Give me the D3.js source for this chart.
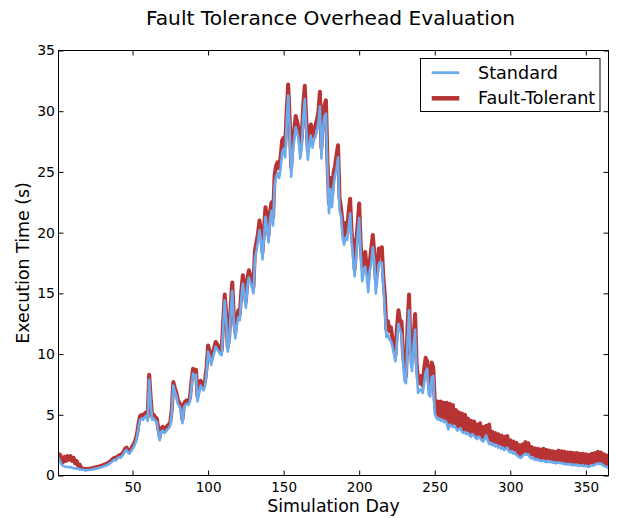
<!DOCTYPE html>
<html>
<head>
<meta charset="utf-8">
<script src="https://cdn.jsdelivr.net/npm/d3@7"></script>
<style>
body { margin: 0; background: #fff; }
text { font-family: "DejaVu Sans", sans-serif; fill: #000; }
</style>
</head>
<body>
<div id="chart"></div>
<script>
// execution time per simulated day
var standard = [
  1.5, 1.2, 0.9, 0.8, 0.75, 0.72, 0.7, 0.68, 0.7, 0.65,
  0.6, 0.6, 0.55, 0.55, 0.5, 0.5, 0.48, 0.45, 0.42, 0.45,
  0.45, 0.47, 0.5, 0.5, 0.55, 0.55, 0.6, 0.62, 0.68, 0.7,
  0.75, 0.8, 0.85, 0.9, 1.0, 1.1, 1.2, 1.3, 1.25, 1.4,
  1.5, 1.45, 1.6, 1.75, 2.0, 2.1, 1.9, 1.8, 2.0, 2.2,
  2.4, 2.7, 3.2, 4.0, 4.6, 4.7, 4.6, 4.8, 4.9, 4.5,
  7.9, 6.0, 4.6, 4.7, 4.5, 4.4, 3.6, 2.9, 3.6, 3.7,
  3.5, 3.6, 3.8, 3.9, 4.1, 5.2, 7.4, 6.9, 6.5, 5.9,
  5.7, 5.4, 4.3, 5.6, 5.8, 5.9, 5.8, 6.1, 7.3, 8.4,
  8.2, 8.3, 6.1, 6.8, 7.4, 7.2, 7.0, 7.4, 8.5, 10.2,
  9.8, 9.1, 9.6, 10.1, 10.6, 10.4, 10.2, 10.0, 9.9, 12.2,
  14.4, 12.8, 10.2, 11.0, 13.4, 15.2, 12.6, 11.3, 12.4, 13.0,
  12.8, 14.6, 15.8, 14.9, 13.8, 15.6, 16.3, 15.9, 15.5, 15.0,
  17.8, 18.5, 19.2, 20.2, 19.4, 17.8, 19.6, 21.3, 20.4, 19.2,
  21.0, 21.8, 20.6, 23.8, 24.6, 24.9, 24.5, 25.3, 26.6, 26.9,
  26.2, 29.0, 31.3, 28.5, 24.6, 26.5, 27.6, 28.7, 28.2, 27.6,
  26.1, 27.0, 29.5, 31.0, 28.4, 26.0, 27.2, 28.0, 27.0, 27.6,
  27.9, 28.4, 29.0, 30.4, 26.1, 28.5, 29.6, 29.8, 25.0, 21.6,
  23.6, 22.1, 23.8, 24.7, 25.2, 26.2, 21.8, 21.4, 19.6, 19.0,
  19.6, 19.4, 20.4, 21.6, 19.3, 17.8, 16.4, 17.9, 19.8, 21.2,
  18.3, 16.0, 16.8, 17.2, 16.4, 15.1, 16.9, 17.4, 18.8, 17.6,
  15.0, 16.2, 17.4, 17.6, 17.5, 15.6, 13.6, 11.4, 11.6, 11.2,
  11.1, 10.6, 10.0, 9.4, 11.0, 12.5, 12.0, 11.6, 9.4, 7.8,
  7.6, 11.0, 13.6, 9.4, 8.6, 10.6, 12.0, 8.6, 6.8, 7.0,
  7.1, 6.8, 7.6, 8.5, 8.8, 6.7, 6.5, 8.1, 8.2, 5.1,
  4.8, 4.6, 4.7, 4.5, 4.6, 4.4, 4.5, 4.3, 3.8, 4.2,
  4.1, 4.0, 4.1, 3.9, 3.7, 3.8, 3.9, 3.6, 3.5, 3.6,
  3.4, 3.5, 3.3, 3.2, 3.4, 3.3, 3.1, 3.0, 3.2, 3.1,
  2.9, 2.8, 3.0, 3.3, 2.9, 2.6, 2.7, 2.5, 2.6, 2.4,
  2.5, 2.3, 2.4, 2.2, 2.3, 2.1, 2.2, 2.3, 2.0, 1.9,
  2.0, 1.8, 1.9, 1.7, 1.6, 1.5, 1.45, 1.6, 1.7, 1.8,
  1.7, 1.75, 1.5, 1.4, 1.5, 1.3, 1.35, 1.25, 1.3, 1.2,
  1.2, 1.25, 1.15, 1.1, 1.2, 1.1, 1.15, 1.05, 1.1, 1.0,
  1.05, 1.1, 1.0, 1.05, 0.95, 1.0, 0.9, 0.95, 0.9, 0.95,
  0.85, 0.9, 0.85, 0.9, 0.8, 0.85, 0.8, 0.85, 0.75, 0.8,
  0.75, 0.7, 0.8, 0.85, 0.8, 0.9, 0.95, 1.0, 0.95, 1.0,
  0.85, 0.8, 0.75, 0.7, 0.6
];

var faultTolerant = [
  1.8, 1.7, 1.4, 1.1, 1.55, 1.2, 1.6, 1.3, 1.6, 1.2,
  1.45, 1.0, 1.2, 0.8, 0.9, 0.62, 0.58, 0.55, 0.52, 0.55,
  0.54, 0.57, 0.6, 0.62, 0.66, 0.67, 0.72, 0.74, 0.8, 0.82,
  0.88, 0.93, 0.98, 1.04, 1.14, 1.25, 1.36, 1.46, 1.4, 1.57,
  1.67, 1.62, 1.78, 1.94, 2.2, 2.3, 2.1, 2.0, 2.2, 2.42,
  2.64, 2.95, 3.45, 4.3, 4.9, 5.0, 4.9, 5.1, 5.2, 4.8,
  8.3, 6.4, 4.9, 5.0, 4.8, 4.7, 3.9, 3.2, 3.9, 4.0,
  3.8, 3.9, 4.1, 4.2, 4.4, 5.5, 7.7, 7.2, 6.8, 6.2,
  6.0, 5.7, 4.6, 5.9, 6.1, 6.2, 6.1, 6.4, 7.7, 8.8,
  8.6, 8.7, 6.5, 7.2, 7.8, 7.6, 7.4, 7.8, 8.9, 10.7,
  10.2, 9.5, 10.0, 10.5, 11.0, 10.8, 10.6, 10.4, 10.3, 12.7,
  14.9, 13.3, 10.6, 11.5, 14.0, 15.9, 13.1, 11.8, 12.9, 13.6,
  13.3, 15.2, 16.5, 15.5, 14.3, 16.2, 16.9, 16.5, 16.0, 15.5,
  18.5, 19.2, 19.9, 21.0, 20.1, 18.4, 20.3, 22.1, 21.1, 19.8,
  21.7, 22.5, 21.3, 24.7, 25.5, 25.8, 25.3, 26.2, 27.6, 27.8,
  27.1, 30.0, 32.2, 29.4, 25.4, 27.4, 28.5, 29.6, 29.1, 28.5,
  26.9, 27.9, 30.5, 32.1, 29.3, 26.8, 28.2, 28.9, 27.9, 28.5,
  28.8, 29.3, 29.9, 31.6, 27.0, 29.4, 30.5, 30.9, 25.9, 22.4,
  24.5, 23.0, 24.9, 25.5, 26.4, 27.2, 22.9, 22.0, 20.8, 19.6,
  20.8, 20.1, 21.7, 22.8, 20.0, 19.0, 17.0, 19.1, 20.7, 22.4,
  19.0, 17.2, 17.5, 18.4, 17.1, 16.2, 17.6, 18.7, 19.8, 18.3,
  16.1, 16.9, 18.7, 18.4, 18.8, 16.3, 14.8, 12.0, 12.7, 11.9,
  12.2, 11.3, 11.1, 9.9, 12.2, 13.6, 12.7, 12.7, 10.0, 8.9,
  8.2, 12.3, 14.9, 10.1, 9.8, 11.3, 13.3, 9.3, 7.8, 7.6,
  8.2, 7.4, 8.8, 9.7, 9.4, 7.8, 7.1, 9.3, 8.9, 6.2,
  5.0, 6.1, 4.9, 6.1, 4.8, 6.0, 4.7, 6.0, 4.1, 5.9,
  4.3, 5.8, 4.3, 5.4, 3.9, 5.2, 4.1, 5.1, 3.7, 5.0,
  3.6, 4.7, 3.5, 4.5, 3.6, 4.45, 3.3, 4.2, 3.4, 4.3,
  3.1, 4.0, 3.2, 4.1, 3.1, 4.2, 2.9, 3.6, 2.8, 3.5,
  2.7, 3.4, 2.6, 3.3, 2.5, 3.2, 2.4, 3.25, 2.2, 2.9,
  2.2, 2.8, 2.1, 2.7, 1.8, 2.5, 1.65, 2.55, 1.9, 2.75,
  1.9, 2.65, 1.7, 2.35, 1.7, 2.25, 1.55, 2.2, 1.5, 2.15,
  1.4, 2.2, 1.35, 2.1, 1.4, 2.05, 1.35, 2.0, 1.3, 1.95,
  1.25, 2.05, 1.2, 2.0, 1.15, 1.95, 1.1, 1.9, 1.1, 1.9,
  1.05, 1.85, 1.05, 1.85, 1.0, 1.8, 1.0, 1.8, 0.95, 1.75,
  0.95, 1.7, 1.0, 1.8, 1.0, 1.85, 1.15, 1.95, 1.15, 1.9,
  1.05, 1.75, 0.95, 1.65, 0.8
];

var days = d3.range(1, standard.length + 1);
var xTicks = [50, 100, 150, 200, 250, 300, 350];
var yTicks = [0, 5, 10, 15, 20, 25, 30, 35];
var seriesNames = ["Standard", "Fault-Tolerant"];
var seriesColors = ["#6cacee", "#b83434"];

var width = 625, height = 518;
var plot = {left: 58.5, right: 608.5, top: 50.5, bottom: 475.5};

var x = d3.scaleLinear().domain([1, 365]).range([plot.left, plot.right]);
var y = d3.scaleLinear().domain([0, 35]).range([plot.bottom, plot.top]);

var svg = d3.select("#chart")
  .append("svg")
  .attr("width", width)
  .attr("height", height);

svg.append("defs").append("clipPath")
  .attr("id", "plotClip")
  .append("rect")
  .attr("x", plot.left)
  .attr("y", plot.top)
  .attr("width", plot.right - plot.left)
  .attr("height", plot.bottom - plot.top);

var line = d3.line()
  .x(function(d) { return x(d[0]); })
  .y(function(d) { return y(d[1]); })
  .curve(d3.curveLinear);

var lines = svg.append("g").attr("clip-path", "url(#plotClip)");

// fault-tolerant goes underneath, standard drawn over it
lines.append("path")
  .datum(days.map(function(d, i) { return [d, faultTolerant[i]]; }))
  .attr("fill", "none")
  .attr("stroke", seriesColors[1])
  .attr("stroke-width", 4)
  .attr("stroke-linejoin", "round")
  .attr("d", line);

lines.append("path")
  .datum(days.map(function(d, i) { return [d, standard[i]]; }))
  .attr("fill", "none")
  .attr("stroke", seriesColors[0])
  .attr("stroke-width", 2.6)
  .attr("stroke-linejoin", "round")
  .attr("d", line);

// axes, ticks pointing inward on all four sides
function styleAxis(g) {
  g.select(".domain").remove();
  g.selectAll(".tick line").attr("stroke", "#000");
  g.selectAll("text").style("font-family", "DejaVu Sans").attr("fill", "#000");
}

svg.append("g")
  .attr("transform", "translate(0," + plot.bottom + ")")
  .call(d3.axisBottom(x).tickValues(xTicks).tickSizeInner(-5).tickSizeOuter(0).tickPadding(6.5))
  .call(styleAxis)
  .selectAll("text").style("font-size", "13.5px");

svg.append("g")
  .attr("transform", "translate(0," + plot.top + ")")
  .call(d3.axisTop(x).tickValues(xTicks).tickSizeInner(-5).tickSizeOuter(0).tickFormat(""))
  .call(styleAxis);

svg.append("g")
  .attr("transform", "translate(" + plot.left + ",0)")
  .call(d3.axisLeft(y).tickValues(yTicks).tickSizeInner(-5).tickSizeOuter(0).tickPadding(3.5))
  .call(styleAxis)
  .selectAll("text").style("font-size", "14px");

svg.append("g")
  .attr("transform", "translate(" + plot.right + ",0)")
  .call(d3.axisRight(y).tickValues(yTicks).tickSizeInner(-5).tickSizeOuter(0).tickFormat(""))
  .call(styleAxis);

svg.append("rect")
  .attr("x", plot.left)
  .attr("y", plot.top)
  .attr("width", plot.right - plot.left)
  .attr("height", plot.bottom - plot.top)
  .attr("fill", "none")
  .attr("stroke", "#000")
  .attr("stroke-width", 1);

// titles
var midX = (plot.left + plot.right) / 2;

svg.append("text")
  .attr("x", midX - 3)
  .attr("y", 25)
  .attr("text-anchor", "middle")
  .style("font-size", "20.2px")
  .text("Fault Tolerance Overhead Evaluation");

svg.append("text")
  .attr("x", midX)
  .attr("y", 511.5)
  .attr("text-anchor", "middle")
  .style("font-size", "17.4px")
  .text("Simulation Day");

svg.append("text")
  .attr("transform", "translate(29," + ((plot.top + plot.bottom) / 2) + ") rotate(-90)")
  .attr("text-anchor", "middle")
  .style("font-size", "17.4px")
  .text("Execution Time (s)");

// legend
var legend = svg.append("g");

legend.append("rect")
  .attr("x", 420.5)
  .attr("y", 58.5)
  .attr("width", 179.5)
  .attr("height", 53)
  .attr("fill", "#fff")
  .attr("stroke", "#000")
  .attr("stroke-width", 1);

var legendRows = legend.selectAll(".row")
  .data(seriesNames)
  .enter()
  .append("g")
  .attr("class", "row")
  .attr("transform", function(d, i) { return "translate(0," + (72.7 + i * 25.6) + ")"; });

legendRows.append("line")
  .attr("x1", 431.7)
  .attr("x2", 459.3)
  .attr("stroke", function(d, i) { return seriesColors[i]; })
  .attr("stroke-width", function(d, i) { return i == 0 ? 2.8 : 4.5; });

legendRows.append("text")
  .attr("x", 478)
  .attr("y", 6)
  .style("font-size", "17.6px")
  .text(function(d) { return d; });
</script>
</body>
</html>
